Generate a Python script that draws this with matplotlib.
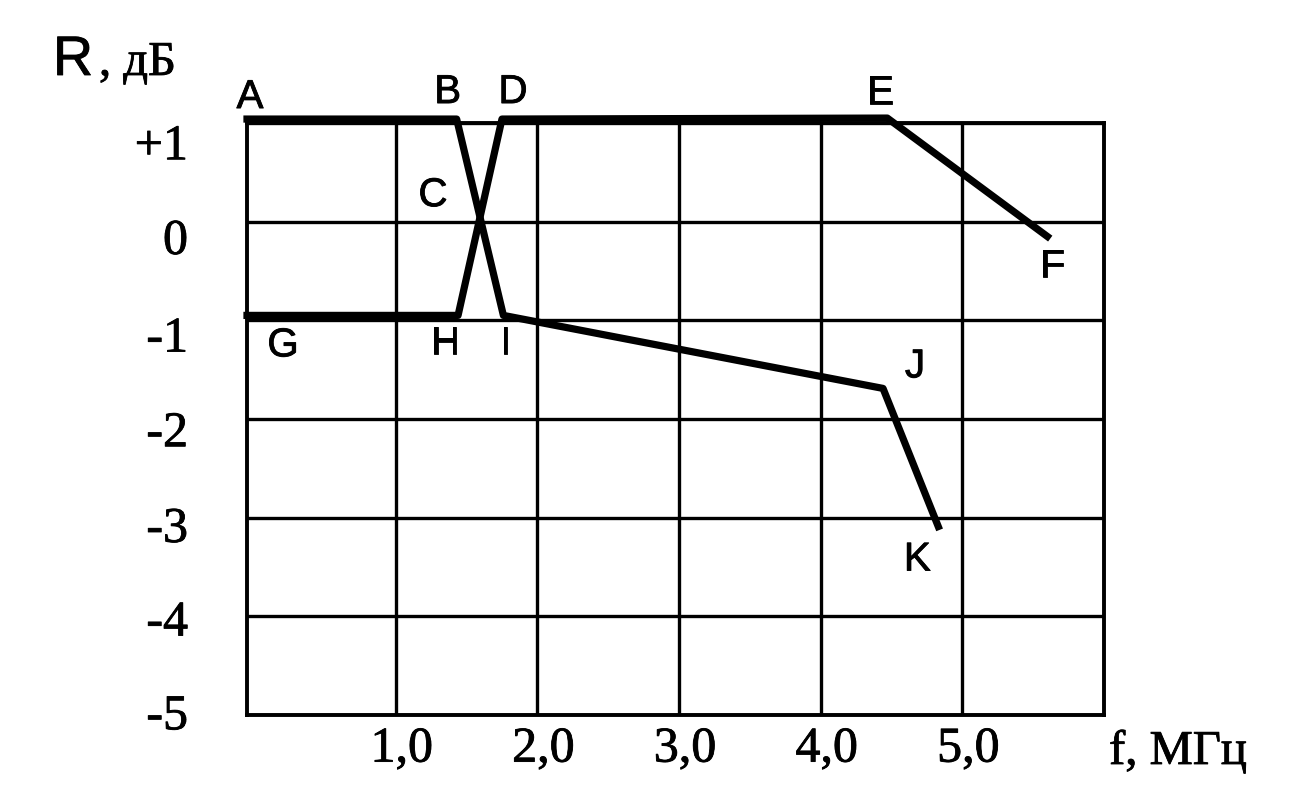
import matplotlib
matplotlib.use('Agg')
import matplotlib.pyplot as plt
import matplotlib.patheffects as pe
from matplotlib.transforms import ScaledTranslation

# values: f in MHz, R in dB
f_upper = [-0.05, 1.43, 1.76, 4.44, 4.83]   # A B I J K
r_upper = [1.04, 1.04, -0.95, -1.69, -3.09]
f_lower = [-0.05, 1.44, 1.75, 4.47, 5.60]   # G H D E F
r_lower = [-0.95, -0.95, 1.04, 1.05, -0.15]

upper_names = ['A', 'B', 'I', 'J', 'K']
lower_names = ['G', 'H', 'D', 'E', 'F']

x_ticks = [1, 2, 3, 4, 5]
x_ticklabels = ['1,0', '2,0', '3,0', '4,0', '5,0']
y_ticks = [1, 0, -1, -2, -3, -4, -5]
y_ticklabels = ['+1', '0', '-1', '-2', '-3', '-4', '-5']

# where each point letter sits relative to its point (pixels, right / up)
letter_offsets = {
    'A': (3, 22), 'B': (-9, 27), 'I': (2, -28), 'J': (32, 22), 'K': (-21, -33),
    'G': (36, -30), 'H': (-13, -28), 'D': (11, 27), 'E': (-7, 25), 'F': (5, -30),
}
# the scanned y labels drift down from their grid lines (pixels)
ylabel_drop = [24, 20, 19, 15, 12, 7, 2]

serif = 'Liberation Serif'
sans = 'Liberation Sans'
# the scan makes strokes a little heavier
heavy = [pe.Stroke(linewidth=0.6, foreground='black'), pe.Normal()]

fig = plt.figure(figsize=(12.99, 7.94), dpi=100)
W, H = 1299, 794
ax = fig.add_axes([247 / W, 1 - 715 / H, (1104 - 247) / W, (715 - 123) / H])

ax.set_xlim(-0.05, 6.0)
ax.set_ylim(-5, 1)
ax.set_xticks(x_ticks)
ax.set_xticklabels(x_ticklabels, family=serif, fontsize=36)
ax.set_yticks(y_ticks)
ax.set_yticklabels([])
ax.tick_params(length=0)
ax.tick_params(axis='x', pad=8)
ax.grid(True, color='black', lw=2.4)
for sp in ax.spines.values():
    sp.set_linewidth(2.8)
    sp.set_color('black')

# shift x labels a touch right like the scan
for lab in ax.get_xticklabels():
    lab.set_transform(lab.get_transform() + ScaledTranslation(6 / 100, 0, fig.dpi_scale_trans))
    lab.set_path_effects(heavy)

for val, lab, drop in zip(y_ticks, y_ticklabels, ylabel_drop):
    tr = ax.get_yaxis_transform() + ScaledTranslation(-59 / 100, -drop / 100, fig.dpi_scale_trans)
    ax.text(0, val, lab, transform=tr, ha='right', va='center', family=serif, fontsize=36,
            path_effects=heavy)

ax.plot(f_upper, r_upper, color='black', lw=5.2, clip_on=False, zorder=5)
ax.plot(f_lower, r_lower, color='black', lw=5.2, clip_on=False, zorder=5)

for names, fs, rs in [(upper_names, f_upper, r_upper), (lower_names, f_lower, r_lower)]:
    for n, x, y in zip(names, fs, rs):
        dx, dy = letter_offsets[n]
        ax.annotate(n, (x, y), xytext=(dx * 0.72, dy * 0.72), textcoords='offset points',
                    ha='center', va='center', family=sans, fontsize=29, annotation_clip=False,
                    path_effects=heavy)

# C marks the crossing, put next to the middle of B-I
cx = (f_upper[1] + f_upper[2]) / 2
cy = (r_upper[1] + r_upper[2]) / 2
ax.annotate('C', (cx, cy), xytext=(-47 * 0.72, 22 * 0.72), textcoords='offset points',
            ha='center', va='center', family=sans, fontsize=29, path_effects=heavy)

# axis names
fig.text(53 / W, 1 - 75 / H, 'R', family=sans, fontsize=40, ha='left', va='baseline',
         path_effects=heavy)
fig.text(99 / W, 1 - 75 / H, ', дБ', family=serif, fontsize=35, ha='left', va='baseline',
         path_effects=heavy)
fig.text(1178 / W, 1 - 752 / H, 'f, МГц', family=serif, fontsize=35, ha='center', va='center',
         path_effects=heavy)

fig.savefig('out.png', dpi=100, facecolor='white')
